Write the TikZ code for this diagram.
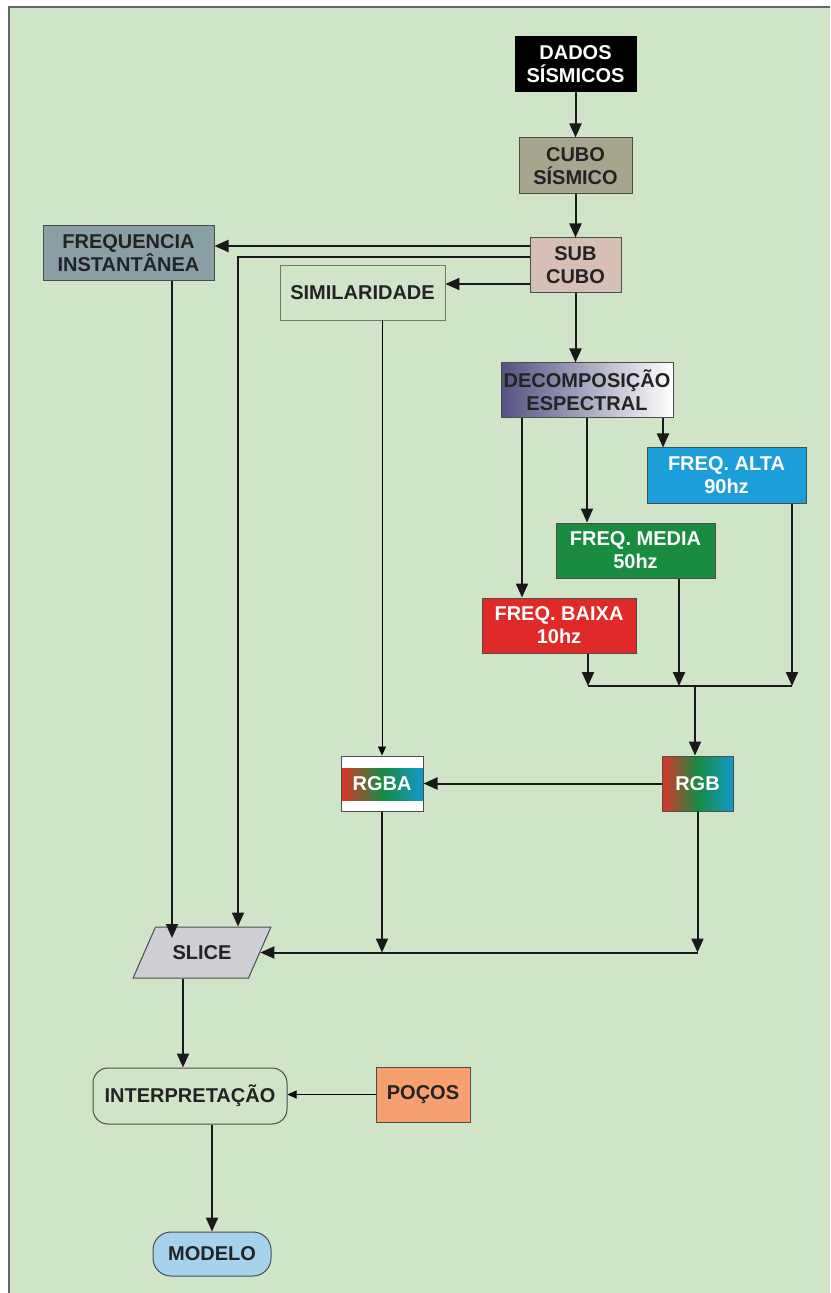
\documentclass[tikz,border=0pt]{standalone}
\usepackage{fontspec}
\setmainfont{Liberation Sans}
\usetikzlibrary{arrows.meta,shapes.geometric}
\definecolor{panel}{RGB}{208,229,200}
\definecolor{ink}{RGB}{35,35,35}
\definecolor{cubocol}{RGB}{166,166,142}
\definecolor{subcol}{RGB}{214,192,182}
\definecolor{instcol}{RGB}{138,158,165}
\definecolor{decompcol}{RGB}{82,82,130}
\definecolor{altacol}{RGB}{28,158,218}
\definecolor{mediacol}{RGB}{26,140,64}
\definecolor{baixacol}{RGB}{224,42,40}
\definecolor{rgbred}{RGB}{222,52,40}
\definecolor{rgbgreen}{RGB}{22,140,64}
\definecolor{rgbblue}{RGB}{20,152,205}
\definecolor{slicecol}{RGB}{206,206,212}
\definecolor{pocoscol}{RGB}{245,160,110}
\definecolor{modelocol}{RGB}{166,210,236}
\tikzset{
  box/.style={draw=black!70, line width=0.5pt, inner sep=0pt, align=center,
    text=ink, font=\bfseries\fontsize{10}{11.5}\selectfont, minimum height=27.5pt},
  flow/.style={line width=1pt, draw=black!90, -{Triangle[length=7pt,width=6pt]}},
  thinflow/.style={line width=0.4pt, -{Triangle[length=4.5pt,width=4pt]}},
  rgbshade/.style={left color=rgbred, right color=rgbblue, middle color=rgbgreen}
}
\begin{document}
\begin{tikzpicture}[x=0.5pt,y=-0.5pt]
  \useasboundingbox (0,0) rectangle (830,1293);
  \fill[white] (0,0) rectangle (830,1293);
  \fill[panel] (9,7) rectangle (830,1293);
  \draw[black!60, line width=1pt] (9,1293) -- (9,7) -- (830,7);

  \node [box, fill=black, draw=black, text=white, minimum width=60.5pt] (dados) at (575.5,64.5) {DADOS\\SÍSMICOS};
  \node [box, fill=cubocol, minimum width=56.5pt, minimum height=28pt] (cubo) at (575.5,166) {CUBO\\SÍSMICO};
  \node [box, fill=subcol, minimum width=45.5pt] (sub) at (575.5,265.5) {SUB\\CUBO};
  \node [box, fill=instcol, minimum width=85.5pt] (freqinst) at (128.5,253.5) {FREQUENCIA\\INSTANTÂNEA};
  \node [box, fill=panel, draw=black!55, line width=0.4pt, minimum width=82.5pt] (simil) at (362.5,292.5) {SIMILARIDADE};
  \node [box, left color=decompcol, right color=white, minimum width=86pt] (decomp) at (587,390.5) {DECOMPOSIÇÃO\\ESPECTRAL};
  \node [box, fill=altacol, text=white, minimum width=79.5pt] (alta) at (726.5,475.5) {FREQ. ALTA\\90hz};
  \node [box, fill=mediacol, text=white, minimum width=79.5pt] (media) at (635.5,550.5) {FREQ. MEDIA\\50hz};
  \node [box, fill=baixacol, text=white, minimum width=77pt] (baixa) at (559,625.5) {FREQ. BAIXA\\10hz};
  \node [box, rgbshade, text=white, minimum width=35.5pt] (rgb) at (697.5,783.5) {RGB};
  \node [box, fill=white, text=white, minimum width=41pt,
    path picture={\shade[rgbshade] ([yshift=-6pt]path picture bounding box.north west) rectangle ([yshift=5.5pt]path picture bounding box.south east);}] (rgba) at (382,783.5) {RGBA};
  \node [box, trapezium, trapezium left angle=45, trapezium right angle=135, trapezium stretches=true,
    fill=slicecol, minimum width=69pt, minimum height=25.5pt] (slice) at (202,952.5) {SLICE};
  \node [box, fill=panel, rounded corners=7.5pt, minimum width=97pt, minimum height=28pt] (interp) at (190,1096) {INTERPRETAÇÃO};
  \node [box, fill=pocoscol, minimum width=47pt] (pocos) at (423,1094.5) {POÇOS};
  \node [box, fill=modelocol, rounded corners=9pt, minimum width=59pt, minimum height=22pt] (modelo) at (212,1254) {MODELO};

  \coordinate (s1) at ([yshift=9.75pt]sub.west);
  \coordinate (s2) at ([yshift=4.25pt]sub.west);
  \coordinate (s3) at ([yshift=-9.25pt]sub.west);
  \coordinate (f1) at ([xshift=21.75pt]freqinst.south);
  \coordinate (slicein) at (172,938);
  \coordinate (d1) at ([xshift=-32.5pt]decomp.south);
  \coordinate (d2) at (decomp.south);
  \coordinate (d3) at ([xshift=38pt]decomp.south);
  \coordinate (b1) at ([xshift=14.5pt]baixa.south);
  \coordinate (m1) at ([xshift=21.75pt]media.south);
  \coordinate (a1) at ([xshift=32.75pt]alta.south);
  \coordinate (bar) at (695,686);
  \coordinate (i1) at ([xshift=-3.5pt]interp.north);

  \draw[flow] (dados) -- (cubo);
  \draw[flow] (cubo) -- (sub);
  \draw[flow] (s1) -- (s1 -| freqinst.east);
  \draw[flow] (s2) -| ([xshift=18pt]slice.north);
  \draw[flow] (s3) -- (s3 -| simil.east);
  \draw[flow] (f1) -- (slicein);
  \draw[thinflow] (simil.south -| rgba.north) -- (rgba.north);
  \draw[flow] (sub.south) -- (sub.south |- decomp.north);
  \draw[flow] (d1) -- (d1 |- baixa.north);
  \draw[flow] (d2) -- (d2 |- media.north);
  \draw[flow] (d3) -- (d3 |- alta.north);
  \draw[flow] (b1) -- (b1 |- bar);
  \draw[flow] (m1) -- (m1 |- bar);
  \draw[flow] (a1) -- (a1 |- bar);
  \draw[line width=1pt, black!90] (b1 |- bar) -- (a1 |- bar);
  \draw[flow] (bar) -- (bar |- rgb.north);
  \draw[flow] (rgb) -- (rgba);
  \draw[flow] (rgba.south) -- (rgba.south |- slice.east);
  \draw[flow] (rgb.south) -- (rgb.south |- slice.east);
  \draw[flow] (rgb.south |- slice.east) -- (slice.east);
  \draw[flow] (i1 |- slice.south) -- (i1);
  \draw[flow] (modelo.north |- interp.south) -- (modelo.north);
  \draw[thinflow] (pocos.west) -- (pocos.west -| interp.east);
\end{tikzpicture}
\end{document}
